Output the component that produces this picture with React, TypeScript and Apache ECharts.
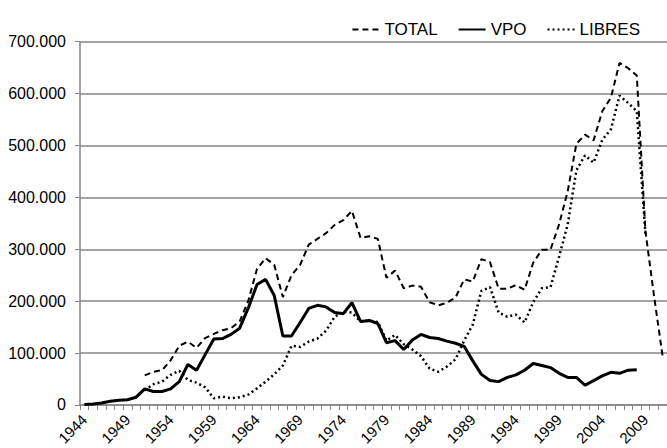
import React, { useEffect, useRef } from "react";
import * as echarts from "echarts";

const years: string[] = [];
for (let y = 1944; y <= 2011; y++) years.push(String(y));

const total: (number | null)[] = [
  null, null, null, null, null, null, null,
  57000, 64000, 67000, 86000, 114000, 122000, 110000, 129000, 137000,
  144000, 148000, 161000, 201000, 262000, 283000, 270000, 208000, 250000, 270000,
  309000, 320000, 331000, 347000, 356000, 374000, 322000, 325000, 320000, 245000,
  259000, 225000, 230000, 228000, 198000, 192000, 197000, 207000, 242000, 238000,
  281000, 275000, 224000, 224000, 231000, 222000, 274000, 299000, 299000, 348000,
  412000, 503000, 521000, 510000, 566000, 592000, 659000, 649000, 635000, 335000,
  210000, 93000,
];

const vpo: (number | null)[] = [
  1000, 2000, 4000, 7000, 9000, 10000, 15000,
  31000, 26000, 26000, 31000, 45000, 78000, 67000, 97000, 127000,
  128000, 136000, 148000, 187000, 232000, 242000, 211000, 133000, 133000, 159000,
  186000, 192000, 189000, 178000, 176000, 197000, 161000, 163000, 157000, 120000,
  124000, 107000, 125000, 136000, 130000, 128000, 123000, 119000, 113000, 85000,
  59000, 47000, 45000, 53000, 58000, 67000, 80000, 76000, 72000, 61000,
  53000, 53000, 38000, 47000, 56000, 63000, 61000, 67000, 68000, null,
  null, null,
];

const libres: (number | null)[] = [
  null, null, null, null, null, null, null,
  28000, 40000, 45000, 58000, 66000, 48000, 43000, 34000, 13000,
  16000, 13000, 15000, 20000, 32000, 45000, 59000, 76000, 114000, 112000,
  122000, 128000, 143000, 170000, 180000, 178000, 161000, 162000, 160000, 124000,
  135000, 117000, 107000, 94000, 70000, 64000, 74000, 88000, 124000, 155000,
  220000, 227000, 178000, 170000, 174000, 159000, 198000, 225000, 227000, 286000,
  348000, 452000, 481000, 467000, 511000, 531000, 596000, 582000, 566000, 330000,
  null, null,
];

const FONT = "'Liberation Sans', Arial, sans-serif";
const AXIS_COLOR = "#868686";

export default function App() {
  const ref = useRef<HTMLDivElement>(null);
  useEffect(() => {
    if (!ref.current) return;
    const chart = echarts.init(ref.current, undefined, { renderer: "svg" });
    chart.setOption({
      animation: false,
      backgroundColor: "#ffffff",
      textStyle: { fontFamily: FONT },
      legend: {
        right: 22,
        top: 16,
        itemWidth: 27,
        itemHeight: 12,
        itemGap: 20,
        itemStyle: { opacity: 0, borderWidth: 0 },
        textStyle: { fontSize: 17, color: "#000", fontFamily: FONT },
        data: ["TOTAL", "VPO", "LIBRES"],
      },
      grid: { left: 80, top: 41.7, width: 589, bottom: 41.3, containLabel: false },
      xAxis: {
        type: "category",
        data: years,
        boundaryGap: true,
        axisLine: { lineStyle: { color: AXIS_COLOR, width: 1.5 } },
        axisTick: { show: true, interval: 0, length: 5, lineStyle: { color: AXIS_COLOR } },
        axisLabel: {
          interval: 4,
          rotate: 45,
          fontSize: 15,
          color: "#000",
          margin: 12,
          fontFamily: FONT,
        },
        splitLine: { show: false },
      },
      yAxis: {
        type: "value",
        min: 0,
        max: 700000,
        interval: 100000,
        axisLine: { show: true, lineStyle: { color: AXIS_COLOR, width: 1.5 } },
        axisTick: { show: true, length: 5, lineStyle: { color: AXIS_COLOR } },
        axisLabel: {
          fontSize: 16,
          color: "#000",
          margin: 14,
          fontFamily: FONT,
          formatter: (v: number) => String(v).replace(/\B(?=(\d{3})+(?!\d))/g, "."),
        },
        splitLine: { show: true, lineStyle: { color: AXIS_COLOR, width: 1.5 } },
      },
      series: [
        {
          name: "TOTAL",
          type: "line",
          data: total,
          symbol: "none",
          connectNulls: false,
          itemStyle: { color: "#000" },
          lineStyle: { color: "#000", width: 2, type: [6, 4] },
          z: 3,
        },
        {
          name: "VPO",
          type: "line",
          data: vpo,
          symbol: "none",
          connectNulls: false,
          itemStyle: { color: "#000" },
          lineStyle: { color: "#000", width: 3, type: "solid" },
          z: 4,
        },
        {
          name: "LIBRES",
          type: "line",
          data: libres,
          symbol: "none",
          connectNulls: false,
          itemStyle: { color: "#000" },
          lineStyle: { color: "#000", width: 2.5, type: [2, 3] },
          z: 2,
        },
      ],
    });
    return () => chart.dispose();
  }, []);
  return (
    <div
      ref={ref}
      style={{ position: "fixed", left: 0, top: 0, width: 667, height: 448 }}
    />
  );
}
